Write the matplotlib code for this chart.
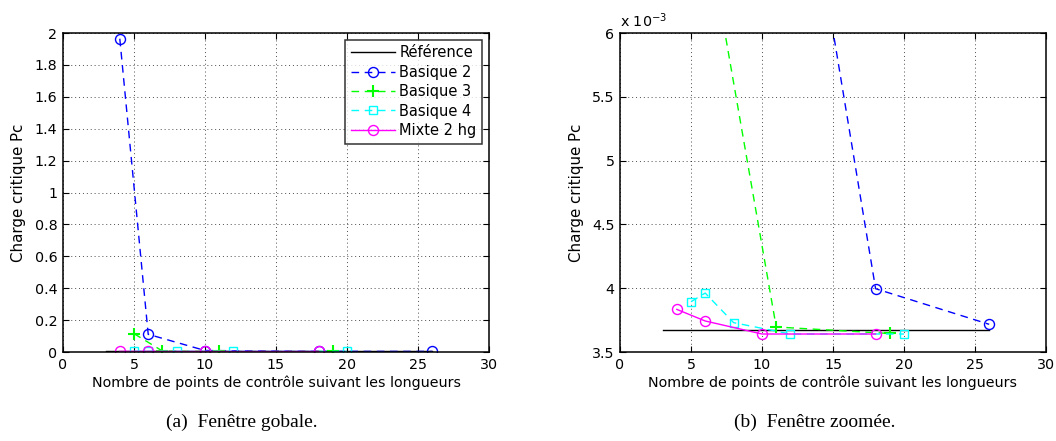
import matplotlib
matplotlib.use("Agg")
import matplotlib.pyplot as plt
from matplotlib.ticker import FuncFormatter

# Data
ref_x = [3, 26]
ref_y = [0.003672, 0.003672]
b2_x = [4, 6, 10, 18, 26]
b2_y = [1.964, 0.111, 0.00938, 0.003996, 0.003717]
b3_x = [5, 7, 11, 19]
b3_y = [0.115, 0.00625, 0.003696, 0.003645]
b4_x = [5, 6, 8, 12, 20]
b4_y = [0.003894, 0.003962, 0.003730, 0.003641, 0.003641]
m2_x = [4, 6, 10, 18]
m2_y = [0.003834, 0.003743, 0.003641, 0.003641]

labels = ["Référence", "Basique 2", "Basique 3", "Basique 4", "Mixte 2 hg"]
xlabel = "Nombre de points de contrôle suivant les longueurs"
ylabel = "Charge critique Pc"
captions = ["(a)  Fenêtre gobale.", "(b)  Fenêtre zoomée."]

plt.rcParams['font.family'] = ['DejaVu Sans']
fig = plt.figure(figsize=(10.56, 4.41), dpi=100)
W, H = 1056, 441
ax1 = fig.add_axes([63 / W, 1 - 352 / H, (489 - 63) / W, (352 - 33) / H])
ax2 = fig.add_axes([620 / W, 1 - 352 / H, (1046 - 620) / W, (352 - 33) / H])

dash = (0, (5.5, 4))
FS = 10.3

def draw(ax):
    ax.plot(ref_x, ref_y, color='black', lw=1.0, label=labels[0])
    ax.plot(b2_x, b2_y, color=(0, 0, 1), lw=1.0, ls=dash, marker='o', ms=7.2, mfc='none', mew=1.0, label=labels[1])
    ax.plot(b3_x, b3_y, color=(0, 1, 0), lw=1.0, ls=dash, marker='+', ms=8, mew=1.5, label=labels[2])
    ax.plot(b4_x, b4_y, color=(0, 1, 1), lw=1.0, ls=dash, marker='s', ms=5.5, mfc='none', mew=1.0, label=labels[3])
    ax.plot(m2_x, m2_y, color=(1, 0, 1), lw=1.0, ls='-', marker='o', ms=7.2, mfc='none', mew=1.0, label=labels[4])
    ax.set_xlim(0, 30)
    ax.set_xticks([0, 5, 10, 15, 20, 25, 30])
    ax.grid(True, ls=(0, (1, 3)), color='black', lw=0.7, alpha=0.7)
    ax.tick_params(direction='in', top=True, right=True, labelsize=FS, length=4.5, width=0.8, pad=4)
    for s in ax.spines.values():
        s.set_linewidth(1.1)
    ax.set_xlabel(xlabel, fontsize=FS, labelpad=3)
    ax.set_ylabel(ylabel, fontsize=10.8, labelpad=6)

draw(ax1)
ax1.set_ylim(0, 2)
ax1.set_yticks([0, 0.2, 0.4, 0.6, 0.8, 1, 1.2, 1.4, 1.6, 1.8, 2])
ax1.yaxis.set_major_formatter(FuncFormatter(lambda v, p: ('%g' % round(v, 6))))
leg = ax1.legend(loc='upper right', fontsize=10.5, frameon=True, fancybox=False,
                 edgecolor='black', handlelength=3.0, handletextpad=0.3,
                 borderpad=0.4, labelspacing=0.3, borderaxespad=0.45)
leg.get_frame().set_linewidth(1.1)

draw(ax2)
ax2.set_ylim(0.0035, 0.006)
ax2.set_yticks([0.0035, 0.004, 0.0045, 0.005, 0.0055, 0.006])
ax2.yaxis.set_major_formatter(FuncFormatter(lambda v, p: ('%g' % round(v * 1000, 6))))
ax2.text(0.0, 1.01, r"x 10$^{-3}$", transform=ax2.transAxes, fontsize=FS, ha='left', va='bottom')

cap_x = [242, 815]
for cx, cap in zip(cap_x, captions):
    fig.text(cx / W, 1 - 422 / H, cap, ha='center', va='center',
             fontsize=14, family='Liberation Serif')

fig.savefig("out.png", dpi=100)
